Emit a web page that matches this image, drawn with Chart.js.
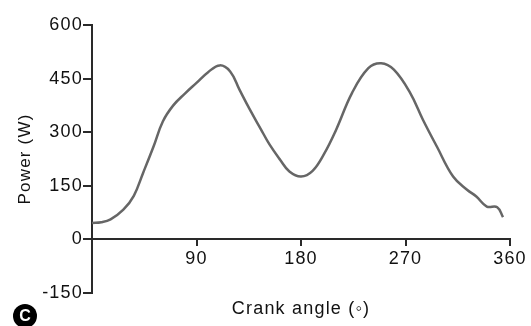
<!DOCTYPE html>
<html><head><meta charset="utf-8">
<script src="https://cdn.jsdelivr.net/npm/chart.js@4/dist/chart.umd.min.js"></script>
<style>html,body{margin:0;padding:0;background:#fff;}</style>
</head><body>
<canvas id="c" width="531" height="326"></canvas>
<script>
const crankAngles = [0,8,16,27,36,44,53,61,70,80,90,100,110,119,127,136,145,153,162,170,180,190,200,210,224,238,249,260,274,285,297,311,323,331,340,349,354];
const powerW = [46,48,56,83,122,186,260,330,375,408,438,468,487,470,419,363,311,265,223,190,176,192,240,305,410,479,493,475,410,335,260,176,139,120,92,90,62];
const xTickValues = [0,90,180,270,360];
const xTickLabels = ['', '90', '180', '270', '360'];
const yTickValues = [-150,0,150,300,450,600];
const panelLabel = 'C';

const points = crankAngles.map((a, i) => ({x: a, y: powerW[i]}));
const textColor = '#111';
const axisColor = '#2a2a2a';
const fam = '"Liberation Sans", Arial, sans-serif';

const spacing = {
  id: 'spacing',
  beforeUpdate(chart) { chart.ctx.letterSpacing = '1.2px'; },
  beforeLayout(chart) { chart.ctx.letterSpacing = '1.2px'; },
  beforeDraw(chart) { chart.ctx.letterSpacing = '1.2px'; }
};

const badge = {
  id: 'badge',
  afterDraw(chart) {
    const ctx = chart.ctx;
    ctx.save();
    ctx.letterSpacing = '0px';
    ctx.beginPath();
    ctx.arc(25, 316, 12, 0, Math.PI * 2);
    ctx.fillStyle = '#000';
    ctx.fill();
    ctx.fillStyle = '#fff';
    ctx.font = 'bold 16px ' + fam;
    ctx.textAlign = 'center';
    ctx.textBaseline = 'middle';
    ctx.fillText(panelLabel, 25, 317);
    ctx.restore();
  }
};

new Chart(document.getElementById('c'), {
  type: 'line',
  data: {
    datasets: [{
      data: points,
      borderColor: '#666',
      borderWidth: 2.5,
      pointRadius: 0,
      tension: 0.4,
      fill: false
    }]
  },
  options: {
    responsive: false,
    animation: false,
    devicePixelRatio: 1,
    layout: {padding: {top: 25, right: 21, bottom: 33, left: 0}},
    plugins: {legend: {display: false}, tooltip: {enabled: false}},
    scales: {
      x: {
        type: 'linear',
        position: {y: 0},
        min: 0, max: 360,
        afterBuildTicks: s => { s.ticks = xTickValues.map(v => ({value: v})); },
        afterFit: s => { s.height = 80; },
        ticks: {
          callback: (v) => xTickLabels[xTickValues.indexOf(v)] ?? '',
          color: textColor,
          font: {family: fam, size: 18},
          padding: 3,
          maxRotation: 0,
          autoSkip: false
        },
        grid: {drawOnChartArea: false, tickLength: 6, color: axisColor, lineWidth: 2},
        border: {display: true, color: axisColor, width: 2},
        title: {
          display: true,
          text: 'Crank angle (◦)',
          color: textColor,
          font: {family: fam, size: 18},
          padding: 0
        }
      },
      y: {
        position: 'left',
        min: -150, max: 600,
        afterBuildTicks: s => { s.ticks = yTickValues.map(v => ({value: v})); },
        afterFit: s => { s.width = 92; },
        ticks: {
          color: textColor,
          font: {family: fam, size: 18},
          padding: 0,
          autoSkip: false
        },
        grid: {drawOnChartArea: false, tickLength: 9, color: axisColor, lineWidth: 2},
        border: {display: true, color: axisColor, width: 2},
        title: {
          display: true,
          text: 'Power (W)',
          color: textColor,
          font: {family: fam, size: 17},
          padding: {top: 15, bottom: 0}
        }
      }
    }
  },
  plugins: [spacing, badge]
});
</script>
</body></html>
